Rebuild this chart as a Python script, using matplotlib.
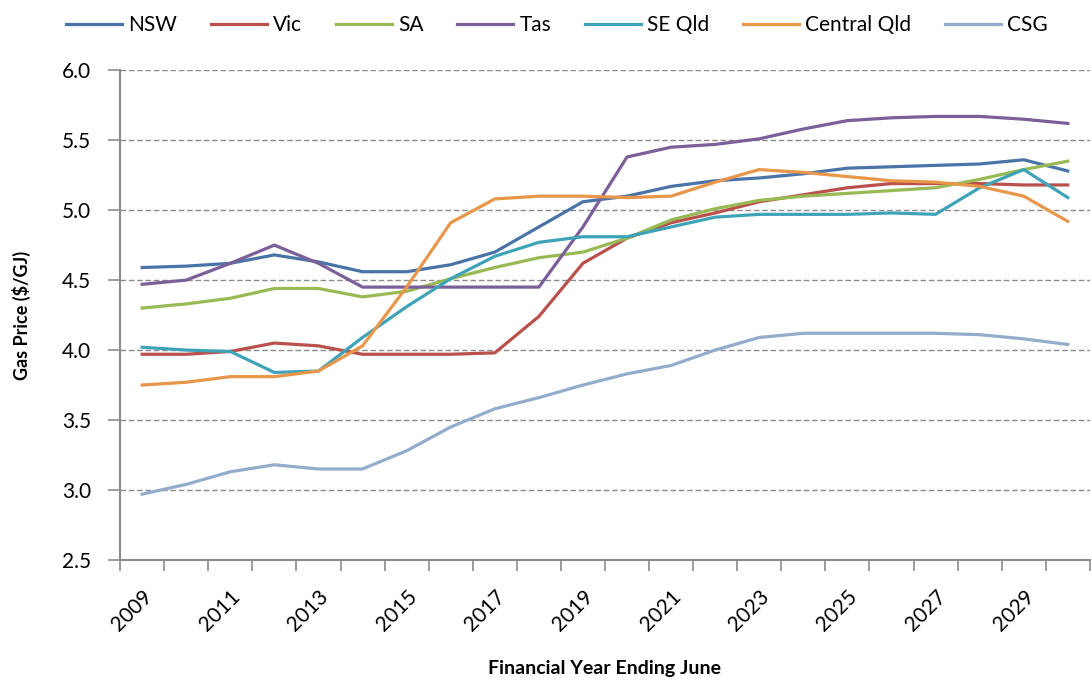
import matplotlib.pyplot as plt

plt.rcParams['font.family'] = ['Lato', 'DejaVu Sans']

years = list(range(2009, 2031))
tick_years = ['2009', '2011', '2013', '2015', '2017', '2019', '2021', '2023', '2025', '2027', '2029']

nsw = [4.59, 4.60, 4.62, 4.68, 4.63, 4.56, 4.56, 4.61, 4.70, 4.88, 5.06, 5.10,
       5.17, 5.21, 5.23, 5.26, 5.30, 5.31, 5.32, 5.33, 5.36, 5.28]
vic = [3.97, 3.97, 3.99, 4.05, 4.03, 3.97, 3.97, 3.97, 3.98, 4.24, 4.62, 4.80,
       4.91, 4.98, 5.06, 5.11, 5.16, 5.19, 5.19, 5.19, 5.18, 5.18]
sa = [4.30, 4.33, 4.37, 4.44, 4.44, 4.38, 4.42, 4.51, 4.59, 4.66, 4.70, 4.80,
      4.93, 5.01, 5.07, 5.10, 5.12, 5.14, 5.16, 5.22, 5.29, 5.35]
tas = [4.47, 4.50, 4.62, 4.75, 4.62, 4.45, 4.45, 4.45, 4.45, 4.45, 4.88, 5.38,
       5.45, 5.47, 5.51, 5.58, 5.64, 5.66, 5.67, 5.67, 5.65, 5.62]
se_qld = [4.02, 4.00, 3.99, 3.84, 3.85, 4.09, 4.31, 4.51, 4.67, 4.77, 4.81, 4.81,
          4.88, 4.95, 4.97, 4.97, 4.97, 4.98, 4.97, 5.16, 5.29, 5.09]
central_qld = [3.75, 3.77, 3.81, 3.81, 3.85, 4.03, 4.45, 4.91, 5.08, 5.10, 5.10, 5.09,
               5.10, 5.20, 5.29, 5.27, 5.24, 5.21, 5.20, 5.17, 5.10, 4.92]
csg = [2.97, 3.04, 3.13, 3.18, 3.15, 3.15, 3.28, 3.45, 3.58, 3.66, 3.75, 3.83,
       3.89, 4.00, 4.09, 4.12, 4.12, 4.12, 4.12, 4.11, 4.08, 4.04]

series = [("NSW", nsw, "#4a74a8"), ("Vic", vic, "#b9504c"), ("SA", sa, "#98b954"),
          ("Tas", tas, "#7a5f99"), ("SE Qld", se_qld, "#3fa3b8"),
          ("Central Qld", central_qld, "#e8964a"), ("CSG", csg, "#93accb")]

fig = plt.figure(figsize=(10.92, 6.82), dpi=100)
ax = fig.add_axes([0.110, 0.179, 0.888, 0.718])

x = list(range(len(years)))
for name, vals, col in series:
    ax.plot(x, vals, color=col, linewidth=2.3, label=name)

ax.set_xlim(-0.5, len(years) - 0.5)
ax.set_ylim(2.5, 6.0)
ax.set_yticks([2.5, 3.0, 3.5, 4.0, 4.5, 5.0, 5.5, 6.0])
ax.set_yticklabels(['2.5', '3.0', '3.5', '4.0', '4.5', '5.0', '5.5', '6.0'], fontsize=15)
for y in [3.0, 3.5, 4.0, 4.5, 5.0, 5.5, 6.0]:
    ax.axhline(y, color='#8c8c8c', linestyle=(0, (4, 2)), linewidth=1.0, zorder=0)

# category labels every second year, tick marks between categories
ax.set_xticks(x[::2])
ax.set_xticklabels(tick_years, fontsize=15, rotation=45, ha='right', va='top',
                   rotation_mode='anchor')
ax.tick_params(axis='x', which='major', length=0, pad=19)
ax.set_xticks([i - 0.5 for i in range(len(years) + 1)], minor=True)
ax.tick_params(axis='x', which='minor', length=8, color='#8c8c8c', width=1.2)
ax.tick_params(axis='y', length=9, color='#8c8c8c', width=1.2, pad=12)

for side in ['top', 'right']:
    ax.spines[side].set_visible(False)
for side in ['left', 'bottom']:
    ax.spines[side].set_color('#8c8c8c')
    ax.spines[side].set_linewidth(1.5)

ax.set_ylabel('Gas Price ($/GJ)', fontsize=13, fontweight='bold', labelpad=22)
ax.set_xlabel('Financial Year Ending June', fontsize=14, fontweight='bold', labelpad=18)

fig.legend(loc='upper center', bbox_to_anchor=(0.51, 1.005), ncol=7, frameon=False,
           fontsize=15, handlelength=2.7, columnspacing=1.6, handletextpad=0.3)

fig.savefig('out.png', dpi=100)
